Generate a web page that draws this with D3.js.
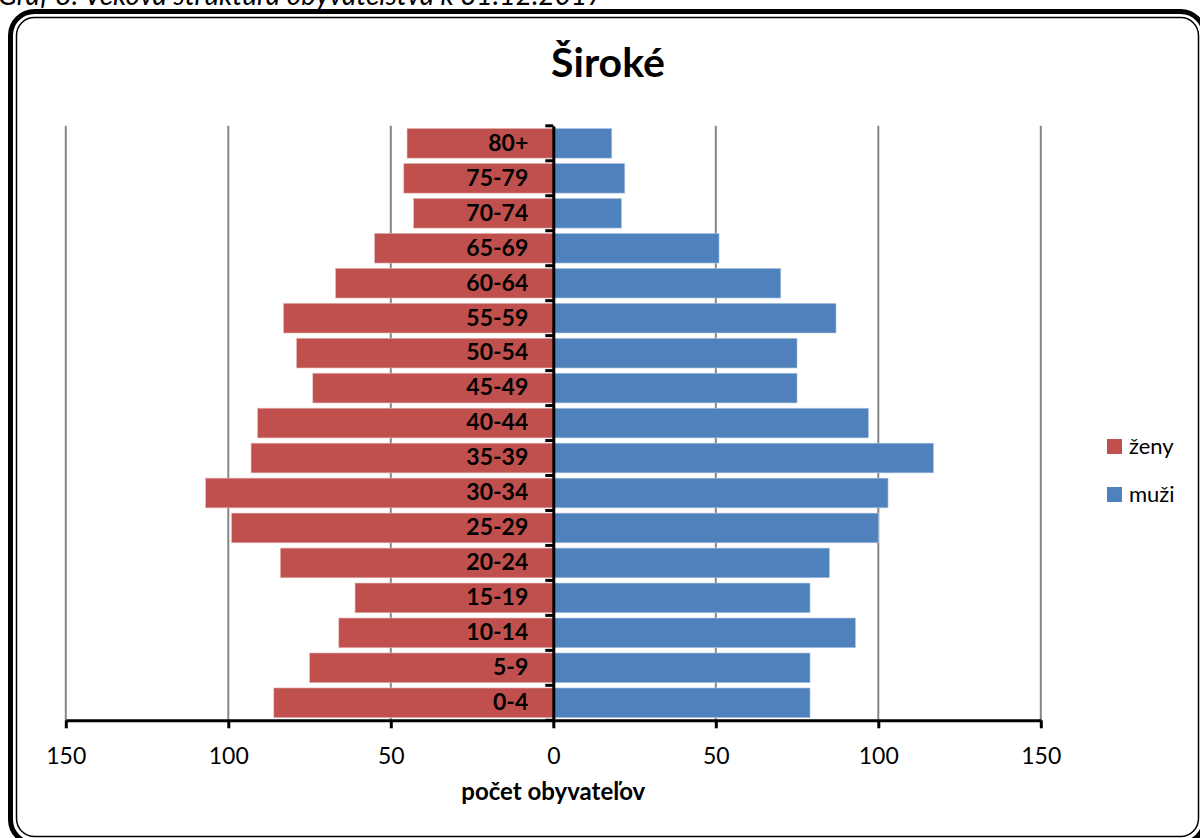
<!DOCTYPE html>
<html>
<head>
<meta charset="utf-8">
<script src="https://cdn.jsdelivr.net/npm/d3@7"></script>
<style>
  body { margin: 0; background: #fff; }
  svg { display: block; font-family: Lato, "Noto Sans", sans-serif; }
</style>
</head>
<body>
<svg id="chart" width="1200" height="838"></svg>
<script>
(function () {
    "use strict";

    // data (bottom group first)
    var ageGroups = ["0-4", "5-9", "10-14", "15-19", "20-24", "25-29", "30-34", "35-39", "40-44",
        "45-49", "50-54", "55-59", "60-64", "65-69", "70-74", "75-79", "80+"];
    var zeny = [86, 75, 66, 61, 84, 99, 107, 93, 91, 74, 79, 83, 67, 55, 43, 46, 45];
    var muzi = [79, 79, 93, 79, 85, 100, 103, 117, 97, 75, 75, 87, 70, 51, 21, 22, 18];
    var xTicks = [-150, -100, -50, 0, 50, 100, 150];
    var seriesNames = ["ženy", "muži"];
    var colors = { "ženy": "#C0504D", "muži": "#4F81BD" };

    var svg = d3.select("#chart");

    var x = d3.scaleLinear().domain([-150, 150]).range([65.8, 1040.8]);
    var y = d3.scaleBand().domain(ageGroups.slice().reverse())
        .range([125.8, 720.3]).paddingInner(0.15).paddingOuter(0.075);

    // caption above the frame (cut off by the top of the page, as in the source)
    svg.append("text")
        .attr("x", -2).attr("y", 5)
        .style("font-style", "italic").style("font-size", "28px")
        .text("Graf 8: Veková štruktúra obyvateľstva k 31.12.2017");

    // double rounded frame
    svg.append("rect")
        .attr("x", 10.5).attr("y", 11.5).attr("width", 1194).attr("height", 832)
        .attr("rx", 24).attr("fill", "none").attr("stroke", "#000").attr("stroke-width", 5);
    svg.append("rect")
        .attr("x", 16.5).attr("y", 17.5).attr("width", 1182).attr("height", 819)
        .attr("rx", 18).attr("fill", "none").attr("stroke", "#000").attr("stroke-width", 1.5);

    // title
    svg.append("text")
        .attr("x", 608).attr("y", 77)
        .attr("text-anchor", "middle")
        .style("font-weight", "bold").style("font-size", "41px")
        .text("Široké");

    // gridlines
    svg.append("g").selectAll("line")
        .data(xTicks.filter(function (d) { return d !== 0; }))
        .enter().append("line")
        .attr("x1", function (d) { return x(d); })
        .attr("x2", function (d) { return x(d); })
        .attr("y1", y.range()[0]).attr("y2", y.range()[1])
        .attr("stroke", "#868686").attr("stroke-width", 2);

    // bars
    svg.append("g").selectAll("rect")
        .data(ageGroups)
        .enter().append("rect")
        .attr("x", function (d, i) { return x(-zeny[i]); })
        .attr("y", function (d) { return y(d); })
        .attr("width", function (d, i) { return x(0) - x(-zeny[i]); })
        .attr("height", y.bandwidth())
        .attr("fill", colors["ženy"])
        .attr("stroke", "#e6b9b8").attr("stroke-width", 0.6);
    svg.append("g").selectAll("rect")
        .data(ageGroups)
        .enter().append("rect")
        .attr("x", x(0))
        .attr("y", function (d) { return y(d); })
        .attr("width", function (d, i) { return x(muzi[i]) - x(0); })
        .attr("height", y.bandwidth())
        .attr("fill", colors["muži"])
        .attr("stroke", "#b9cde5").attr("stroke-width", 0.6);

    // x axis
    var xAxis = svg.append("g")
        .attr("transform", "translate(0," + y.range()[1] + ")")
        .call(d3.axisBottom(x).tickValues(xTicks)
            .tickFormat(function (d) { return Math.abs(d); })
            .tickSize(8).tickPadding(19).tickSizeOuter(0));
    xAxis.select(".domain").attr("stroke-width", 3);
    xAxis.selectAll(".tick line").attr("stroke-width", 3);
    xAxis.selectAll("text").style("font-size", "23px").style("font-family", "Lato, sans-serif").attr("fill", "#000");

    // y axis with category labels
    var yAxis = svg.append("g")
        .attr("transform", "translate(" + x(0) + ",0)")
        .call(d3.axisLeft(y).tickSize(0).tickPadding(25).tickSizeOuter(0));
    yAxis.select(".domain").attr("stroke-width", 3);
    yAxis.selectAll("text").style("font-size", "23px").style("font-weight", "bold")
        .style("font-family", "Lato, sans-serif").attr("fill", "#000");

    // tick marks between categories
    var gap = y.step() * y.paddingInner() / 2;
    var bounds = ageGroups.map(function (d) { return y(d) - gap; }).concat([y.range()[1]]);
    yAxis.selectAll("line.between")
        .data(bounds)
        .enter().append("line")
        .attr("class", "between")
        .attr("x1", -8).attr("x2", 0)
        .attr("y1", function (d) { return d; }).attr("y2", function (d) { return d; })
        .attr("stroke", "#000").attr("stroke-width", 3);

    // axis title
    svg.append("text")
        .attr("x", x(0)).attr("y", 800)
        .attr("text-anchor", "middle")
        .style("font-weight", "bold").style("font-size", "24px")
        .text("počet obyvateľov");

    // legend
    var legend = svg.append("g").selectAll("g")
        .data(seriesNames)
        .enter().append("g")
        .attr("transform", function (d, i) { return "translate(1107," + (439 + i * 48) + ")"; });
    legend.append("rect")
        .attr("width", 15).attr("height", 15)
        .attr("fill", function (d) { return colors[d]; });
    legend.append("text")
        .attr("x", 22).attr("y", 15)
        .style("font-size", "22px")
        .text(function (d) { return d; });
})();
</script>
</body>
</html>
